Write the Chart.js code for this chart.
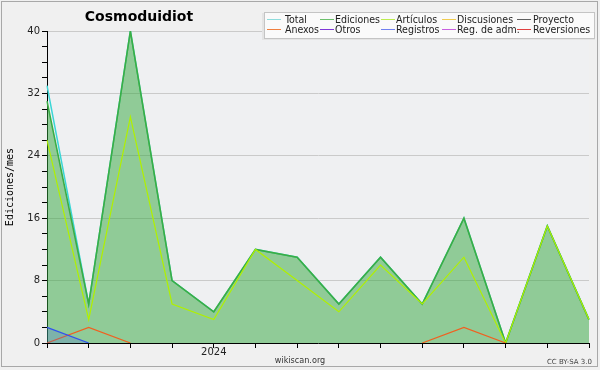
<!DOCTYPE html>
<html>
<head>
<meta charset="utf-8">
<script src="https://cdn.jsdelivr.net/npm/chart.js@4"></script>
<style>
html,body{margin:0;padding:0;background:#f0f0f0;}
#wrap{position:relative;width:600px;height:370px;}
</style>
</head>
<body>
<div id="wrap"><canvas id="c" width="600" height="370"></canvas></div>
<script>
// ---- data ----
const months = ["2023-09","2023-10","2023-11","2023-12","2024-01","2024-02","2024-03","2024-04","2024-05","2024-06","2024-07","2024-08","2024-09","2024-10"];
const total       = [33, 5, 40, 8, 4, 12, 11, 5, 11, 5, 16, 0, 15, 3];
const ediciones   = [31, 5, 40, 8, 4, 12, 11, 5, 11, 5, 16, 0, 15, 3];
const articulos   = [26, 3, 29, 5, 3, 12, 8, 4, 10, 5, 11, 0, 15, 3];
const discusiones = [0, 0, 0, 0, 0, 0, 0, 0, 0, 0, 0, 0, 0, 0];
const proyecto    = [0, 0, 0, 0, 0, 0, 0, 0, 0, 0, 0, 0, 0, 0];
const anexos      = [0, 2, 0, 0, 0, 0, 0, 0, 0, 0, 2, 0, 0, 0];
const otros       = [0, 0, 0, 0, 0, 0, 0, 0, 0, 0, 0, 0, 0, 0];
const registros   = [2, 0, 0, 0, 0, 0, 0, 0, 0, 0, 0, 0, 0, 0];
const regAdm      = [0, 0, 0, 0, 0, 0, 0, 0, 0, 0, 0, 0, 0, 0];
const reversiones = [0, 0, 0, 0, 0, 0, 0, 0, 0, 0, 0, 0, 0, 0];
const yTickValues = [0, 8, 16, 24, 32, 40];
const chartTitle = "Cosmoduidiot";
const yTitle = "Ediciones/mes";

// zero values are only drawn when next to a non-zero value
function vis(arr){
  return arr.map((v,i)=> (v!==0 || (i>0 && arr[i-1]!==0) || (i<arr.length-1 && arr[i+1]!==0)) ? v : null);
}

const series = [
  {label:"Total", data:total, line:"#3ad6d6", leg:"#8edcdc", w:1.5, z:5},
  {label:"Ediciones", data:ediciones, line:"#3aae45", leg:"#6cc06c", w:1.6, z:4, fill:"rgba(50,165,60,0.5)"},
  {label:"Artículos", data:articulos, line:"#b0f000", leg:"#bdec50", w:1.2, z:3},
  {label:"Discusiones", data:discusiones, line:"#f0c840", leg:"#f0cc50", w:1.2, z:2},
  {label:"Proyecto", data:proyecto, line:"#505050", leg:"#606060", w:1.2, z:2},
  {label:"Anexos", data:anexos, line:"#f06020", leg:"#f08040", w:1.2, z:2},
  {label:"Otros", data:otros, line:"#8030d0", leg:"#8038d8", w:1.2, z:2},
  {label:"Registros", data:registros, line:"#3050f0", leg:"#7080f0", w:1.2, z:1, fill:"rgba(60,90,240,0.22)"},
  {label:"Reg. de adm.", data:regAdm, line:"#c050e0", leg:"#c860e0", w:1.2, z:2},
  {label:"Reversiones", data:reversiones, line:"#e03030", leg:"#e04040", w:1.2, z:2}
];

const datasets = series.map(s=>({
  label:s.label,
  data:vis(s.data),
  borderColor:s.line,
  borderWidth:s.w,
  backgroundColor:s.fill||"transparent",
  fill:s.fill?"origin":false,
  pointRadius:0,
  pointHoverRadius:0,
  tension:0,
  spanGaps:false,
  order:s.z
}));

const decor = {
  id:"decor",
  beforeDraw(chart){
    const ctx=chart.ctx, a=chart.chartArea;
    ctx.save();
    ctx.fillStyle="#f0f0f0";
    ctx.fillRect(0,0,600,370);
    ctx.strokeStyle="#a8a8a8";
    ctx.lineWidth=1;
    ctx.strokeRect(1.5,1.5,596,365);
    ctx.fillStyle="#eff0f2";
    ctx.fillRect(a.left,a.top,a.right-a.left,a.bottom-a.top);
    ctx.restore();
  },
  afterDraw(chart){
    const ctx=chart.ctx, a=chart.chartArea;
    ctx.save();
    // title
    ctx.fillStyle="#000";
    ctx.font="bold 14px 'DejaVu Sans'";
    ctx.textAlign="center";ctx.textBaseline="middle";
    ctx.fillText(chartTitle,139,17);
    // y title
    ctx.save();
    ctx.translate(10,(a.top+a.bottom)/2);
    ctx.rotate(-Math.PI/2);
    ctx.font="10px 'DejaVu Sans Mono'";
    ctx.fillStyle="#000";
    ctx.fillText(yTitle,0,0);
    ctx.restore();
    // footer
    ctx.fillStyle="#333";
    ctx.font="9px 'DejaVu Sans Condensed','DejaVu Sans'";
    ctx.fillText("wikiscan.org",300,361);
    ctx.textAlign="right";
    ctx.font="7px 'DejaVu Sans'";
    ctx.fillStyle="#444";
    ctx.fillText("CC BY-SA 3.0",592,362);
    // legend
    ctx.fillStyle="#e4e4e4";
    ctx.fillRect(262,13,333,27);
    ctx.fillStyle="#fafafa";
    ctx.fillRect(264,12,331,27);
    ctx.strokeStyle="#c4c4c4";
    ctx.strokeRect(264.5,12.5,330,26);
    const lx=[267,320,381,442,517], tx=[285,335,396,457,533], ry=[19,29];
    ctx.textAlign="left";ctx.textBaseline="middle";
    ctx.font="10.5px 'DejaVu Sans Condensed','DejaVu Sans'";
    series.forEach((s,i)=>{
      const col=i%5,row=Math.floor(i/5);
      ctx.strokeStyle=s.leg;ctx.lineWidth=1;
      ctx.beginPath();ctx.moveTo(lx[col],ry[row]+0.5);ctx.lineTo(lx[col]+14,ry[row]+0.5);ctx.stroke();
      ctx.fillStyle="#222";
      ctx.fillText(s.label,tx[col],ry[row]+1);
    });
    ctx.restore();
  }
};

new Chart(document.getElementById("c"),{
  type:"line",
  data:{labels:months,datasets},
  options:{
    responsive:false,
    animation:false,
    events:[],
    layout:{padding:{left:0,top:31,right:11,bottom:0}},
    plugins:{legend:{display:false},tooltip:{enabled:false},title:{display:false}},
    scales:{
      x:{
        type:"category",
        offset:false,
        afterFit(s){s.height=27;},
        grid:{drawOnChartArea:false,tickLength:5,tickColor:"#000",tickWidth:1},
        border:{color:"#000",width:1},
        ticks:{autoSkip:false,maxRotation:0,padding:-2,color:"#222",font:{family:"DejaVu Sans",size:10},
          callback(v,i){return months[i].endsWith("-01")?months[i].slice(0,4):"";}}
      },
      y:{
        min:0,max:40,
        afterFit(s){s.width=47;},
        afterBuildTicks(s){const t=[];for(let v=0;v<=40;v+=2)t.push({value:v});s.ticks=t;},
        grid:{tickLength:5,tickColor:"#000",
          color(c){const v=c.tick&&c.tick.value;return (v>0 && v%8===0)?"#cacaca":"rgba(0,0,0,0)";}},
        border:{color:"#000",width:1},
        ticks:{autoSkip:false,padding:2,color:"#222",font:{family:"DejaVu Sans",size:10},
          callback(v){return yTickValues.includes(v)?String(v):"";}}
      }
    }
  },
  plugins:[decor]
});
</script>
</body>
</html>
